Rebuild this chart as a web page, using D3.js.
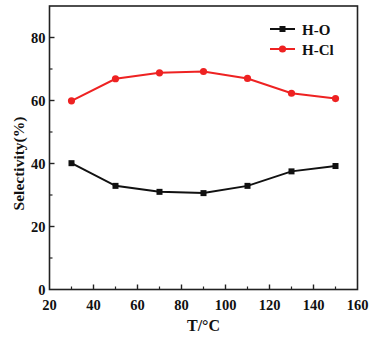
<!DOCTYPE html>
<html>
<head>
<meta charset="utf-8">
<script src="https://cdnjs.cloudflare.com/ajax/libs/d3/7.8.5/d3.min.js"></script>
<style>
	body { margin: 0; background: #fff; }
	text { font-family: "Liberation Serif", "Times New Roman", serif; font-weight: bold; fill: #111; }
</style>
</head>
<body>
<svg id="chart" width="377" height="338"></svg>
<script>
const temperatures = [30, 50, 70, 90, 110, 130, 150];
const hoValues = [40.1, 32.9, 31.0, 30.6, 32.9, 37.5, 39.2];
const hclValues = [59.9, 66.9, 68.8, 69.2, 67.0, 62.3, 60.6];
const xTicks = [20, 40, 60, 80, 100, 120, 140, 160];
const yTicks = [0, 20, 40, 60, 80];
const seriesNames = ['H-O', 'H-Cl'];

const margin = { left: 49.5, right: 19.5, top: 6, bottom: 48.5 };
const width = 377, height = 338;
const svg = d3.select('#chart');

let xScale = d3.scaleLinear()
	.domain([ 20, 160 ])
	.range([ margin.left, width - margin.right ]);
let yScale = d3.scaleLinear()
	.domain([ 0, 90 ])
	.range([ height - margin.bottom, margin.top ]);

// frame
svg.append('rect')
	.attr('x', margin.left)
	.attr('y', margin.top)
	.attr('width', width - margin.right - margin.left)
	.attr('height', height - margin.bottom - margin.top)
	.style('fill', 'none')
	.style('stroke', '#222')
	.style('stroke-width', 1.6);

// x ticks (inward)
let xMinor = d3.range(30, 160, 20);
let xAxis = svg.append('g');
xAxis.selectAll('line.major')
	.data(xTicks.slice(1, -1))
	.enter().append('line')
	.attr('x1', d => xScale(d)).attr('x2', d => xScale(d))
	.attr('y1', yScale(0)).attr('y2', yScale(0) - 5)
	.style('stroke', '#222').style('stroke-width', 1.4);
xAxis.selectAll('line.minor')
	.data(xMinor)
	.enter().append('line')
	.attr('x1', d => xScale(d)).attr('x2', d => xScale(d))
	.attr('y1', yScale(0)).attr('y2', yScale(0) - 3)
	.style('stroke', '#222').style('stroke-width', 1.2);
xAxis.selectAll('text')
	.data(xTicks)
	.enter().append('text')
	.attr('x', d => xScale(d))
	.attr('y', yScale(0) + 20)
	.attr('text-anchor', 'middle')
	.style('font-size', '14.5px')
	.text(d => d);

// y ticks (inward)
let yMinor = d3.range(10, 90, 20);
let yAxis = svg.append('g');
yAxis.selectAll('line.major')
	.data(yTicks.slice(1))
	.enter().append('line')
	.attr('x1', xScale(20)).attr('x2', xScale(20) + 5)
	.attr('y1', d => yScale(d)).attr('y2', d => yScale(d))
	.style('stroke', '#222').style('stroke-width', 1.4);
yAxis.selectAll('line.minor')
	.data(yMinor)
	.enter().append('line')
	.attr('x1', xScale(20)).attr('x2', xScale(20) + 3)
	.attr('y1', d => yScale(d)).attr('y2', d => yScale(d))
	.style('stroke', '#222').style('stroke-width', 1.2);
yAxis.selectAll('text')
	.data(yTicks)
	.enter().append('text')
	.attr('x', margin.left - 4)
	.attr('y', d => yScale(d) + 5)
	.attr('text-anchor', 'end')
	.style('font-size', '14.5px')
	.text(d => d);

// axis titles
svg.append('text')
	.attr('x', (xScale(20) + xScale(160)) / 2)
	.attr('y', 331)
	.attr('text-anchor', 'middle')
	.style('font-size', '16px')
	.text('T/°C');
svg.append('text')
	.attr('transform', 'translate(24,' + yScale(40) + ') rotate(-90)')
	.attr('text-anchor', 'middle')
	.style('font-size', '15.5px')
	.text('Selectivity(%)');

// series
var line = d3.line()
	.x((d, i) => xScale(temperatures[i]))
	.y(d => yScale(d));

svg.append('path')
	.datum(hoValues)
	.attr('d', line)
	.style('fill', 'none')
	.style('stroke', '#111')
	.style('stroke-width', 2);
svg.selectAll('rect.ho')
	.data(hoValues)
	.enter().append('rect')
	.attr('x', (d, i) => xScale(temperatures[i]) - 3)
	.attr('y', d => yScale(d) - 3)
	.attr('width', 6).attr('height', 6)
	.style('fill', '#111');

svg.append('path')
	.datum(hclValues)
	.attr('d', line)
	.style('fill', 'none')
	.style('stroke', '#ee2222')
	.style('stroke-width', 2);
svg.selectAll('circle.hcl')
	.data(hclValues)
	.enter().append('circle')
	.attr('cx', (d, i) => xScale(temperatures[i]))
	.attr('cy', d => yScale(d))
	.attr('r', 3.6)
	.style('fill', '#ee2222');

// legend
let legend = svg.append('g');
let legendColors = ['#111', '#ee2222'];
seriesNames.forEach(function(name, i) {
	let ly = 29 + i * 20;
	legend.append('line')
		.attr('x1', 270).attr('x2', 295)
		.attr('y1', ly).attr('y2', ly)
		.style('stroke', legendColors[i]).style('stroke-width', 2);
	if (i == 0)
		legend.append('rect')
			.attr('x', 279.5).attr('y', ly - 3).attr('width', 6).attr('height', 6)
			.style('fill', legendColors[i]);
	else
		legend.append('circle')
			.attr('cx', 282.5).attr('cy', ly).attr('r', 3.6)
			.style('fill', legendColors[i]);
	legend.append('text')
		.attr('x', 302)
		.attr('y', ly + 5.5)
		.style('font-size', '15px')
		.text(name);
});
</script>
</body>
</html>
